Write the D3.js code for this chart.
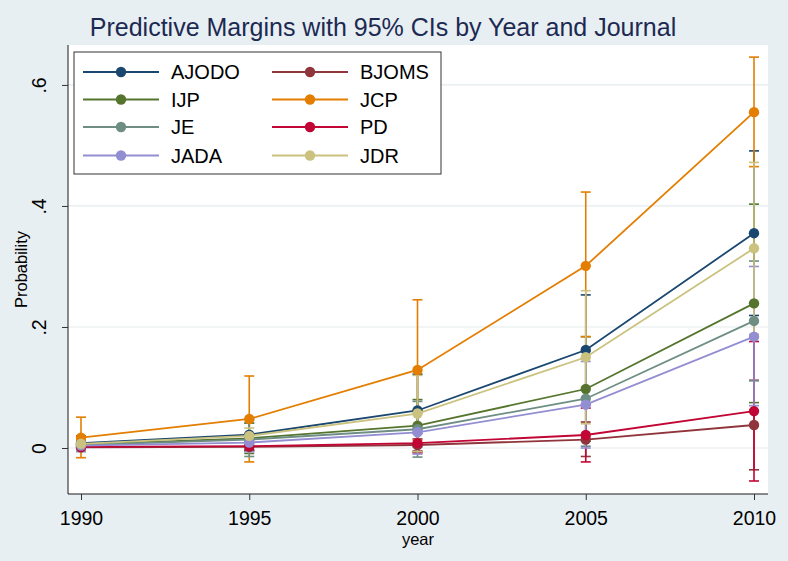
<!DOCTYPE html>
<html>
<head>
<meta charset="utf-8">
<script src="https://cdn.jsdelivr.net/npm/d3@7"></script>
<style>
  html, body { margin: 0; padding: 0; background: #e8eff2; }
  svg { display: block; font-family: "Liberation Sans", Arial, sans-serif; }
</style>
</head>
<body>
<svg id="chart" width="788" height="561"></svg>
<script>
// ---- data ----
const years = [1990, 1995, 2000, 2005, 2010];
const journals = ["AJODO", "BJOMS", "IJP", "JCP", "JE", "PD", "JADA", "JDR"];
const colors = ["#1a476f", "#90353b", "#55752f", "#e37e00", "#6e8e84", "#c10534", "#938dd2", "#cac27e"];
const yTicks = [0, 0.2, 0.4, 0.6];
const yTickLabels = ["0", ".2", ".4", ".6"];

const margAJODO = [0.008, 0.022, 0.062, 0.162, 0.355];
const margBJOMS = [0.001, 0.002, 0.005, 0.014, 0.038];
const margIJP   = [0.006, 0.016, 0.037, 0.0975, 0.239];
const margJCP   = [0.017, 0.048, 0.129, 0.301, 0.555];
const margJE    = [0.005, 0.014, 0.031, 0.0815, 0.210];
const margPD    = [0.002, 0.003, 0.008, 0.0215, 0.061];
const margJADA  = [0.004, 0.009, 0.026, 0.0716, 0.184];
const margJDR   = [0.007, 0.020, 0.057, 0.150, 0.330];

const loAJODO = [-0.004, -0.003, 0.002, 0.071, 0.219];
const hiAJODO = [0.020, 0.047, 0.122, 0.253, 0.491];
const loBJOMS = [-0.003, -0.004, -0.005, -0.014, -0.036];
const hiBJOMS = [0.005, 0.008, 0.015, 0.043, 0.112];
const loIJP   = [-0.005, -0.009, -0.006, 0.011, 0.075];
const hiIJP   = [0.017, 0.041, 0.080, 0.184, 0.403];
const loJCP   = [-0.016, -0.023, 0.013, 0.184, 0.465];
const hiJCP   = [0.051, 0.119, 0.245, 0.423, 0.646];
const loJE    = [-0.006, -0.014, -0.015, 0.003, 0.111];
const hiJE    = [0.016, 0.042, 0.077, 0.160, 0.309];
const loPD    = [-0.004, -0.005, -0.008, -0.023, -0.0545];
const hiPD    = [0.008, 0.011, 0.024, 0.066, 0.176];
const loJADA  = [-0.005, -0.006, -0.010, 0.000, 0.070];
const hiJADA  = [0.013, 0.024, 0.062, 0.143, 0.300];
const loJDR   = [-0.003, 0.007, -0.006, 0.040, 0.188];
const hiJDR   = [0.017, 0.033, 0.120, 0.260, 0.472];

const margins = [margAJODO, margBJOMS, margIJP, margJCP, margJE, margPD, margJADA, margJDR];
const lows    = [loAJODO, loBJOMS, loIJP, loJCP, loJE, loPD, loJADA, loJDR];
const highs   = [hiAJODO, hiBJOMS, hiIJP, hiJCP, hiJE, hiPD, hiJADA, hiJDR];

const series = journals.map((name, i) => ({
  name, color: colors[i],
  pts: years.map((yr, j) => ({ year: yr, v: margins[i][j], lo: lows[i][j], hi: highs[i][j] }))
}));

// ---- layout ----
const svg = d3.select("#chart");
const plot = { left: 68, right: 768, top: 45, bottom: 494 };
const FONT = "Liberation Sans, Arial, sans-serif";

svg.append("rect").attr("x", 0).attr("y", 0).attr("width", 788).attr("height", 561).attr("fill", "#e8eff2");
svg.append("rect").attr("x", plot.left).attr("y", plot.top)
  .attr("width", plot.right - plot.left).attr("height", plot.bottom - plot.top).attr("fill", "#ffffff");

const x = d3.scaleLinear().domain([1990, 2010]).range([81, 754]);
const y = d3.scaleLinear().domain([-0.076, 0.666]).range([plot.bottom, plot.top]);

// gridlines
svg.append("g").selectAll("line").data(yTicks).join("line")
  .attr("x1", plot.left).attr("x2", plot.right)
  .attr("y1", d => y(d)).attr("y2", d => y(d))
  .attr("stroke", "#e3ebee").attr("stroke-width", 1.2);

// axes
const yAxis = d3.axisLeft(y).tickValues(yTicks).tickSize(6).tickSizeOuter(0).tickFormat((d, i) => yTickLabels[i]);
const gy = svg.append("g").attr("transform", `translate(${plot.left},0)`).call(yAxis);
gy.select(".domain").attr("stroke", "#1a1a1a").attr("d", `M0,${plot.top}V${plot.bottom}`);
gy.selectAll(".tick line").attr("stroke", "#333");
gy.selectAll(".tick text")
  .attr("x", null).attr("dy", null)
  .attr("transform", "translate(-29,0) rotate(-90)")
  .attr("text-anchor", "middle").attr("dominant-baseline", "central")
  .attr("font-size", 19.5).attr("fill", "#000").attr("font-family", FONT);

const xAxis = d3.axisBottom(x).tickValues(years).tickSize(6).tickSizeOuter(0).tickFormat(d3.format("d"));
const gx = svg.append("g").attr("transform", `translate(0,${plot.bottom})`).call(xAxis);
gx.select(".domain").attr("stroke", "#1a1a1a").attr("d", `M${plot.left},0H${plot.right}`);
gx.selectAll(".tick line").attr("stroke", "#333");
gx.selectAll(".tick text").attr("y", 24).attr("dy", null).attr("dominant-baseline", "central")
  .attr("font-size", 19.5).attr("fill", "#000").attr("font-family", FONT);

// axis titles
svg.append("text").attr("x", 418).attr("y", 539).attr("text-anchor", "middle")
  .attr("dominant-baseline", "central").attr("font-size", 16.5).attr("fill", "#000").text("year");
svg.append("text").attr("transform", `translate(21,${(plot.top + plot.bottom) / 2}) rotate(-90)`)
  .attr("text-anchor", "middle").attr("dominant-baseline", "central")
  .attr("font-size", 16.5).attr("fill", "#000").text("Probability");

// title
svg.append("text").attr("x", 383).attr("y", 27).attr("text-anchor", "middle")
  .attr("dominant-baseline", "central").attr("font-size", 25).attr("fill", "#1c2a52")
  .text("Predictive Margins with 95% CIs by Year and Journal");

// CIs (drawn first, in series order)
const capW = 5;
const ciG = svg.append("g");
series.forEach(s => {
  const g = ciG.append("g");
  g.selectAll("line.ci").data(s.pts).join("line").attr("class", "ci")
    .attr("x1", d => x(d.year)).attr("x2", d => x(d.year))
    .attr("y1", d => y(d.lo)).attr("y2", d => y(d.hi))
    .attr("stroke", s.color).attr("stroke-width", 1.6);
  g.selectAll("line.caphi").data(s.pts).join("line").attr("class", "caphi")
    .attr("x1", d => x(d.year) - capW).attr("x2", d => x(d.year) + capW)
    .attr("y1", d => y(d.hi)).attr("y2", d => y(d.hi))
    .attr("stroke", s.color).attr("stroke-width", 1.6);
  g.selectAll("line.caplo").data(s.pts).join("line").attr("class", "caplo")
    .attr("x1", d => x(d.year) - capW).attr("x2", d => x(d.year) + capW)
    .attr("y1", d => y(d.lo)).attr("y2", d => y(d.lo))
    .attr("stroke", s.color).attr("stroke-width", 1.6);
});

// lines + markers
const line = d3.line().x(d => x(d.year)).y(d => y(d.v));
series.forEach(s => {
  const g = svg.append("g");
  g.append("path").datum(s.pts).attr("d", line).attr("fill", "none")
    .attr("stroke", s.color).attr("stroke-width", 1.8);
  g.selectAll("circle").data(s.pts).join("circle")
    .attr("cx", d => x(d.year)).attr("cy", d => y(d.v)).attr("r", 5.2)
    .attr("fill", s.color);
});

// legend
const leg = svg.append("g");
leg.append("rect").attr("x", 74).attr("y", 52).attr("width", 367).attr("height", 122)
  .attr("fill", "#ffffff").attr("stroke", "#333").attr("stroke-width", 1);
const rowY = [72, 99.5, 127, 155.5];
const colX = [83, 272];
series.forEach((s, i) => {
  const r = Math.floor(i / 2), c = i % 2;
  const x0 = colX[c], yy = rowY[r];
  leg.append("line").attr("x1", x0).attr("x2", x0 + 76).attr("y1", yy).attr("y2", yy)
    .attr("stroke", s.color).attr("stroke-width", 1.8);
  leg.append("circle").attr("cx", x0 + 38).attr("cy", yy).attr("r", 5.2).attr("fill", s.color);
  leg.append("text").attr("x", x0 + 88).attr("y", yy).attr("dominant-baseline", "central")
    .attr("font-size", 20).attr("fill", "#000").attr("font-family", FONT).text(s.name);
});
</script>
</body>
</html>
